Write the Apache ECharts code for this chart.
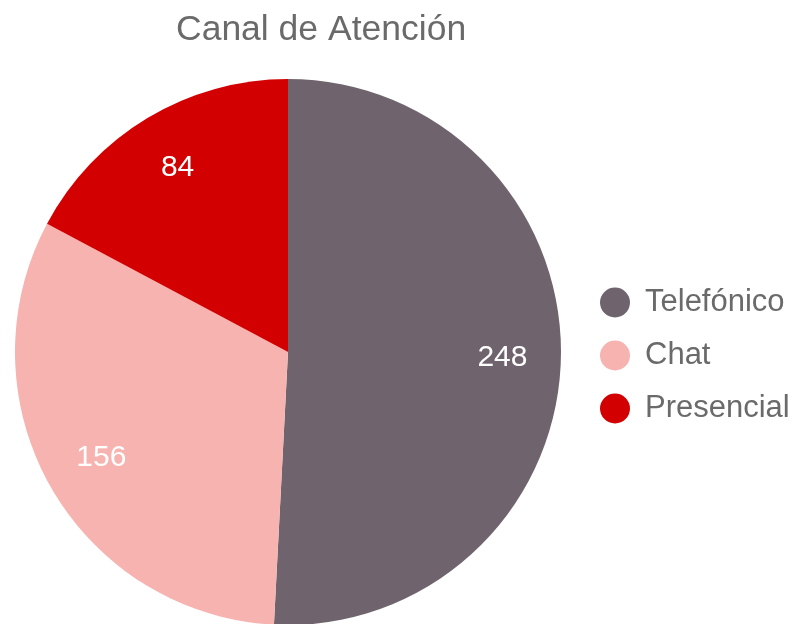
<!DOCTYPE html>
<html>
<head>
<meta charset="utf-8">
<script src="https://cdn.jsdelivr.net/npm/echarts@6/dist/echarts.min.js"></script>
<style>
  html, body { margin: 0; padding: 0; background: #fff; }
  #chart { width: 796px; height: 624px; }
</style>
</head>
<body>
<div id="chart"></div>
<script>
  const categories = ['Telefónico', 'Chat', 'Presencial'];
  const values = [248, 156, 84];
  const colors = ['#6f646e', '#f6b3b0', '#d20000'];

  const FONT = '"Liberation Sans", Arial, sans-serif';

  const pieData = categories.map((name, i) => ({
    name: name,
    value: values[i],
    itemStyle: { color: colors[i] }
  }));

  const chart = echarts.init(document.getElementById('chart'));
  chart.setOption({
    backgroundColor: '#fff',
    title: {
      text: 'Canal de Atención',
      left: 171,
      top: 7,
      textStyle: {
        fontFamily: FONT,
        fontSize: 35.5,
        fontWeight: 'normal',
        color: '#6a6a6a'
      }
    },
    legend: {
      orient: 'vertical',
      left: 600,
      top: 287,
      padding: 0,
      icon: 'circle',
      itemWidth: 30,
      itemHeight: 30,
      itemGap: 22,
      data: categories,
      textStyle: {
        fontFamily: FONT,
        fontSize: 31,
        color: '#6a6a6a',
        padding: [0, 0, 0, 10]
      }
    },
    series: [
      {
        // base pie
        type: 'pie',
        center: [288, 352],
        radius: [0, 273],
        startAngle: 90,
        clockwise: true,
        silent: true,
        label: { show: false },
        labelLine: { show: false },
        data: pieData
      },
      {
        // transparent ring only to place the value labels further out
        type: 'pie',
        center: [288, 352],
        radius: [150, 273],
        startAngle: 90,
        clockwise: true,
        silent: true,
        legendHoverLink: false,
        itemStyle: { color: 'transparent' },
        label: {
          show: true,
          position: 'inside',
          formatter: '{c}',
          fontFamily: FONT,
          fontSize: 30,
          color: '#fff'
        },
        labelLine: { show: false },
        data: categories.map((name, i) => ({
          name: name,
          value: values[i],
          itemStyle: { color: 'transparent' }
        }))
      }
    ]
  });
</script>
</body>
</html>
